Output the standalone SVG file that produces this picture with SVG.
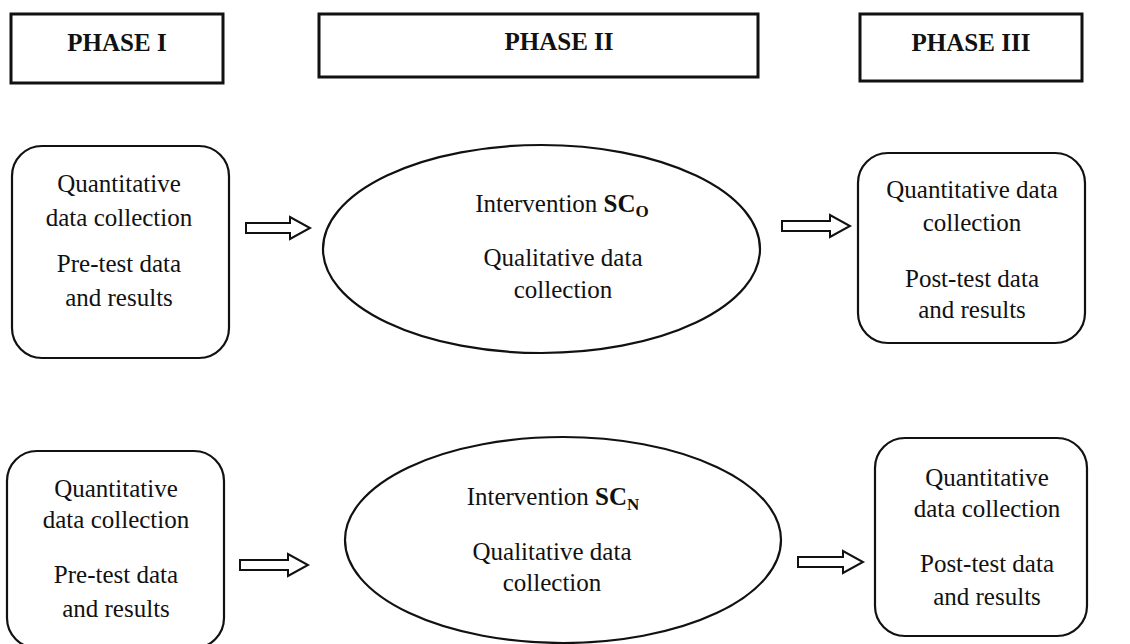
<svg xmlns="http://www.w3.org/2000/svg" width="1130" height="644" viewBox="0 0 1130 644">
<style>
.hdr{fill:#fff;stroke:#111;stroke-width:3}
.box{fill:#fff;stroke:#111;stroke-width:2.2}
.arr{fill:#fff;stroke:#111;stroke-width:2;stroke-linejoin:miter}
text{font-family:"Liberation Serif","Times New Roman",serif;fill:#111;text-anchor:middle}
.h{font-size:25px;font-weight:bold}
.t{font-size:25px}
.b{font-weight:bold}
.sub{font-size:17px;font-weight:bold}
</style>
<rect width="1130" height="644" fill="#fff"/>
<g id="phase1">
<rect class="hdr" x="11" y="14" width="212" height="69"/>
<text class="h" x="117" y="51">PHASE I</text>
</g>
<g id="phase2">
<rect class="hdr" x="319" y="14" width="439" height="63"/>
<text class="h" x="559" y="50">PHASE II</text>
</g>
<g id="phase3">
<rect class="hdr" x="860" y="14" width="222" height="67"/>
<text class="h" x="971" y="51">PHASE III</text>
</g>
<g id="pre1">
<rect class="box" x="12" y="146" width="217" height="212" rx="30"/>
<text class="t" x="119" y="192">Quantitative</text>
<text class="t" x="119" y="226">data collection</text>
<text class="t" x="119" y="272">Pre-test data</text>
<text class="t" x="119" y="306">and results</text>
</g>
<g id="int1">
<ellipse class="box" cx="541.5" cy="249" rx="218.5" ry="104"/>
<text class="t" x="562" y="212">Intervention <tspan class="b">SC</tspan><tspan class="sub" dy="5">O</tspan></text>
<text class="t" x="563" y="266">Qualitative data</text>
<text class="t" x="563" y="298">collection</text>
</g>
<g id="post1">
<rect class="box" x="858" y="153" width="227" height="190" rx="30"/>
<text class="t" x="972" y="198">Quantitative data</text>
<text class="t" x="972" y="231">collection</text>
<text class="t" x="972" y="287">Post-test data</text>
<text class="t" x="972" y="318">and results</text>
</g>
<g id="pre2">
<rect class="box" x="7" y="451" width="217" height="197" rx="30"/>
<text class="t" x="116" y="497">Quantitative</text>
<text class="t" x="116" y="528">data collection</text>
<text class="t" x="116" y="583">Pre-test data</text>
<text class="t" x="116" y="617">and results</text>
</g>
<g id="int2">
<ellipse class="box" cx="563" cy="540" rx="218" ry="103"/>
<text class="t" x="553" y="505">Intervention <tspan class="b">SC</tspan><tspan class="sub" dy="5">N</tspan></text>
<text class="t" x="552" y="560">Qualitative data</text>
<text class="t" x="552" y="591">collection</text>
</g>
<g id="post2">
<rect class="box" x="875" y="438" width="212" height="198" rx="30"/>
<text class="t" x="987" y="486">Quantitative</text>
<text class="t" x="987" y="517">data collection</text>
<text class="t" x="987" y="572">Post-test data</text>
<text class="t" x="987" y="605">and results</text>
</g>
<g id="connectors">
<path class="arr" d="M246,223 L290,223 L290,217 L310,228 L290,239 L290,233 L246,233 Z"/>
<path class="arr" d="M782,221 L830,221 L830,215 L850,226 L830,237 L830,231 L782,231 Z"/>
<path class="arr" d="M240,560 L288,560 L288,554 L308,565 L288,576 L288,570 L240,570 Z"/>
<path class="arr" d="M798,557 L843,557 L843,551 L863,562 L843,573 L843,567 L798,567 Z"/>
</g>
</svg>
